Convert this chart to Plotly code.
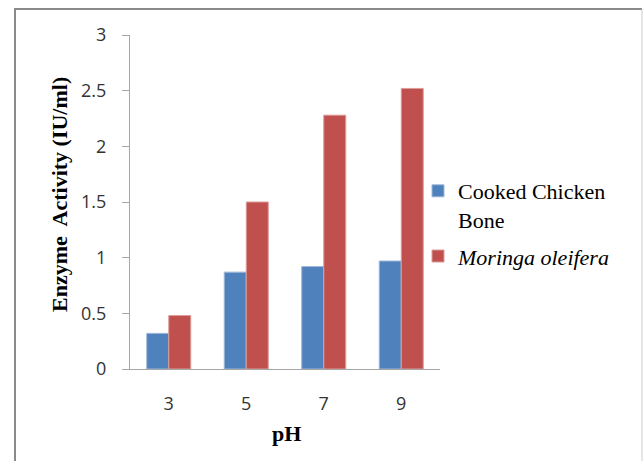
import plotly.graph_objects as go

# Enzyme activity at each pH for the two sources
ph_levels = ["3", "5", "7", "9"]
chicken_bone = [0.32, 0.87, 0.92, 0.97]
moringa = [0.48, 1.50, 2.28, 2.52]
y_ticks = [0, 0.5, 1, 1.5, 2, 2.5, 3]

W, H = 643, 461
L, R, T, B = 130, 440, 35, 369  # plot area in pixels


def px(x):
    return (x - L) / (R - L)


def py(y):
    return (B - y) / (B - T)


fig = go.Figure()
fig.add_trace(go.Bar(
    x=ph_levels, y=chicken_bone, name="Cooked Chicken<br>Bone",
    legendgroup="bone",
    marker=dict(color="#4F81BD", line=dict(color="#9db7d8", width=1)),
))
fig.add_trace(go.Bar(
    x=ph_levels, y=moringa, name="<i>Moringa oleifera</i>",
    legendgroup="moringa",
    marker=dict(color="#C0504D", line=dict(color="#dc9c9a", width=1)),
))

axis_color = "#a6a6a6"
tick_font = dict(family="Open Sans", size=18, color="#333333")
title_font = dict(family="Liberation Serif", size=22, color="#000000")

fig.update_layout(
    width=W, height=H,
    margin=dict(l=L, r=W - R, t=T, b=H - B, pad=0),
    paper_bgcolor="white", plot_bgcolor="white",
    barmode="group", bargap=0.432, bargroupgap=0,
    showlegend=True,
    legend=dict(
        x=px(418), y=py(170), xanchor="left", yanchor="top",
        font=dict(family="Liberation Serif", size=22, color="#000000"),
        valign="top", bgcolor="rgba(0,0,0,0)", borderwidth=0,
        traceorder="grouped", tracegroupgap=5,
    ),
    xaxis=dict(
        type="category", showline=True, linecolor=axis_color, linewidth=1,
        ticks="", tickfont=tick_font, ticklabelstandoff=18,
        showgrid=False, zeroline=False,
    ),
    yaxis=dict(
        range=[0, 3], tickvals=y_ticks, showline=True, linecolor=axis_color,
        linewidth=1, ticks="outside", ticklen=7, tickcolor=axis_color,
        tickfont=tick_font, ticklabelstandoff=12,
        showgrid=False, zeroline=False,
    ),
    annotations=[
        dict(text="<b>Enzyme  Activity (IU/ml)</b>", textangle=-90,
             xref="paper", yref="paper", x=px(59), y=py(195),
             xanchor="center", yanchor="middle", showarrow=False,
             font=title_font),
        dict(text="<b>pH</b>", xref="paper", yref="paper",
             x=px(286), y=py(433), xanchor="center", yanchor="middle",
             showarrow=False, font=title_font),
    ],
    shapes=[
        # chart frame
        dict(type="path", xref="paper", yref="paper",
             path=f"M {px(15)},{py(470)} L {px(15)},{py(9)} L {px(642)},{py(9)}",
             line=dict(color="#8a8a8a", width=2)),
        dict(type="line", xref="paper", yref="paper",
             x0=px(642), y0=py(9), x1=px(642), y1=py(470),
             line=dict(color="#cccccc", width=1)),
    ],
)

fig.write_html("out.html")
